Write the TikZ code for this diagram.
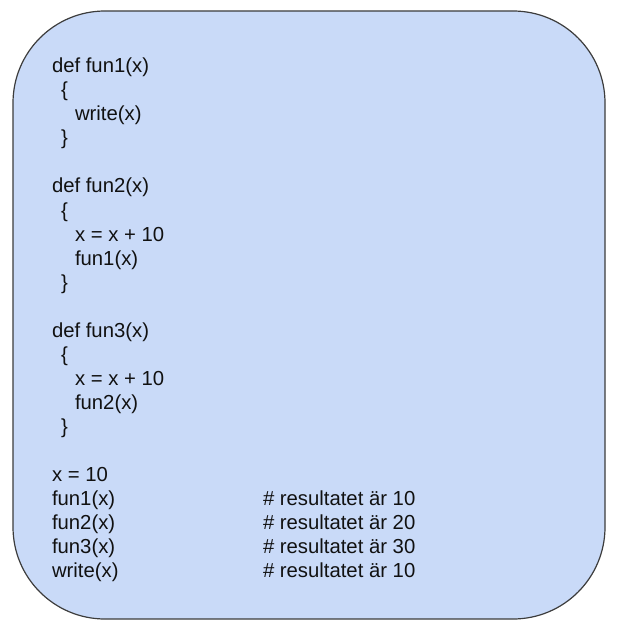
\documentclass[tikz,border=0pt]{standalone}
\usepackage{fontspec}
\setmainfont{Liberation Sans}
\definecolor{boxfill}{HTML}{C9DAF8}
\definecolor{boxline}{HTML}{3C3C3C}
\definecolor{txt}{HTML}{111111}
\begin{document}
\begin{tikzpicture}[x=1bp,y=-1bp,
  codeline/.style={anchor=base west,inner sep=0pt,outer sep=0pt,text=txt,font=\fontsize{20.3bp}{24bp}\selectfont},
  panel/.style={draw=boxline,fill=boxfill,line width=1.2bp,rounded corners=92bp}]
\useasboundingbox (0,0) rectangle (618,627);
\draw[panel] (13,11) rectangle (605,619);
\def\bl#1{72.7+#1*24.05}
\node[codeline] (l0) at (52,{\bl{0}}) {def fun1(x)};
\node[codeline] (l1) at (61,{\bl{1}}) {\{};
\node[codeline] (l2) at (75,{\bl{2}}) {write(x)};
\node[codeline] (l3) at (61,{\bl{3}}) {\}};
\node[codeline] (l5) at (52,{\bl{5}}) {def fun2(x)};
\node[codeline] (l6) at (61,{\bl{6}}) {\{};
\node[codeline] (l7) at (75,{\bl{7}}) {x = x + 10};
\node[codeline] (l8) at (75,{\bl{8}}) {fun1(x)};
\node[codeline] (l9) at (61,{\bl{9}}) {\}};
\node[codeline] (l11) at (52,{\bl{11}}) {def fun3(x)};
\node[codeline] (l12) at (61,{\bl{12}}) {\{};
\node[codeline] (l13) at (75,{\bl{13}}) {x = x + 10};
\node[codeline] (l14) at (75,{\bl{14}}) {fun2(x)};
\node[codeline] (l15) at (61,{\bl{15}}) {\}};
\node[codeline] (l17) at (52,{\bl{17}}) {x = 10};
\node[codeline] (l18) at (52,{\bl{18}}) {fun1(x)};
\node[codeline] (l19) at (52,{\bl{19}}) {fun2(x)};
\node[codeline] (l20) at (52,{\bl{20}}) {fun3(x)};
\node[codeline] (l21) at (52,{\bl{21}}) {write(x)};
\node[codeline] (c18) at (263,{\bl{18}}) {\# resultatet är 10};
\node[codeline] (c19) at (263,{\bl{19}}) {\# resultatet är 20};
\node[codeline] (c20) at (263,{\bl{20}}) {\# resultatet är 30};
\node[codeline] (c21) at (263,{\bl{21}}) {\# resultatet är 10};
\end{tikzpicture}
\end{document}
